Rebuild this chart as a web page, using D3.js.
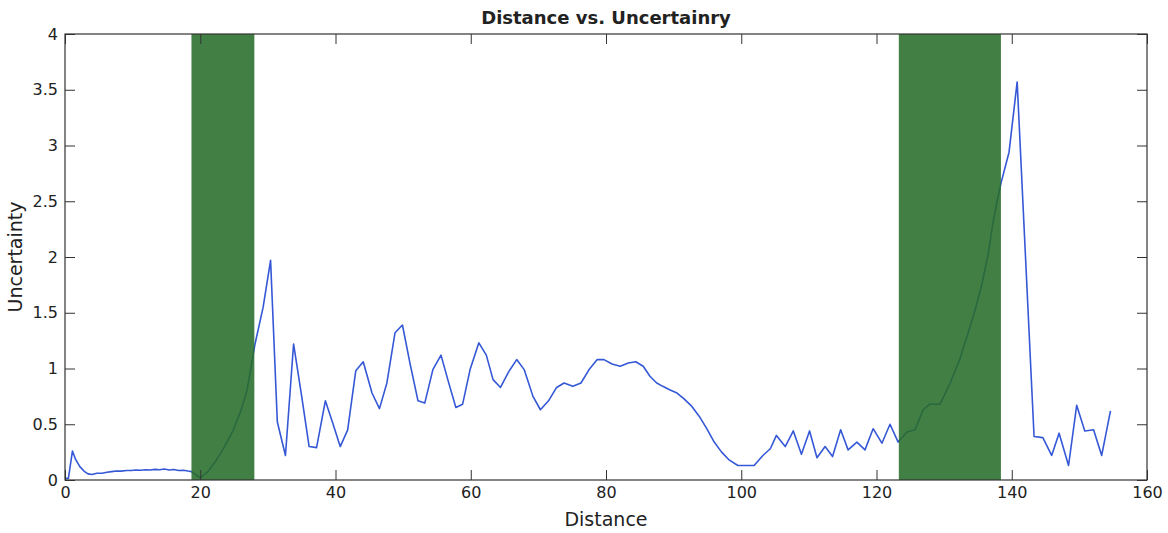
<!DOCTYPE html>
<html>
<head>
<meta charset="utf-8">
<script src="https://cdn.jsdelivr.net/npm/d3@7"></script>
<style>
  body { margin: 0; background: #fff; }
  text { font-family: "DejaVu Sans", sans-serif; fill: #222; }
</style>
</head>
<body>
<svg id="chart" width="1168" height="533"></svg>
<script>
// values
var distance = [0, 0.5, 1.1, 1.6, 2.2, 2.8, 3.4, 4.0, 4.7, 5.5, 6.2, 6.9, 7.6, 8.3, 9.1, 9.8, 10.5, 11.2, 11.9, 12.6,
  13.3, 14.0, 14.7, 15.4, 16.1, 16.8, 17.5, 18.2, 18.7, 20.0, 21.2, 22.4, 23.6, 24.9, 26.0, 26.9, 28.1, 29.3, 30.4,
  31.4, 32.6, 33.8, 35.0, 36.1, 37.2, 38.5, 39.6, 40.7, 41.8, 43.0, 44.1, 45.4, 46.5, 47.6, 48.8, 49.9, 51.0,
  52.2, 53.2, 54.4, 55.6, 56.7, 57.8, 58.8, 59.9, 61.2, 62.3, 63.3, 64.4, 65.6, 66.8, 67.9, 69.2, 70.3, 71.5,
  72.7, 73.8, 75.1, 76.3, 77.5, 78.7, 79.7, 80.9, 82.1, 83.3, 84.4, 85.5, 86.5, 87.5, 88.4, 89.4, 90.5, 91.5,
  92.7, 93.8, 94.9, 96.0, 97.1, 98.2, 99.5, 100.7, 101.9, 103.2, 104.3, 105.2, 106.5, 107.7, 108.9, 110.1,
  111.2, 112.4, 113.5, 114.7, 115.8, 117.1, 118.3, 119.5, 120.8, 122.0, 123.2, 124.5, 125.7, 126.9, 127.9,
  129.4, 130.9, 132.3, 133.6, 134.7, 135.6, 136.5, 137.2, 137.9, 138.4, 139.6, 140.8, 143.3, 144.6, 145.9,
  147.0, 148.4, 149.6, 150.8, 152.1, 153.3, 154.6];
var uncertainty = [0.015, 0.015, 0.26, 0.18, 0.12, 0.08, 0.055, 0.05, 0.06, 0.06, 0.07, 0.075, 0.08, 0.08, 0.085, 0.085,
  0.09, 0.088, 0.092, 0.09, 0.095, 0.092, 0.098, 0.09, 0.094, 0.085, 0.088, 0.08, 0.075, 0.02, 0.08, 0.18, 0.3,
  0.45, 0.62, 0.8, 1.22, 1.55, 1.97,
  0.52, 0.22, 1.22, 0.75, 0.3, 0.29, 0.71, 0.51, 0.3, 0.45, 0.98, 1.06, 0.78, 0.64, 0.87, 1.32, 1.39, 1.05,
  0.71, 0.69, 0.99, 1.12, 0.88, 0.65, 0.68, 0.99, 1.23, 1.12, 0.9, 0.83, 0.97, 1.08, 0.99, 0.75, 0.63, 0.71,
  0.83, 0.87, 0.84, 0.87, 0.99, 1.08, 1.08, 1.04, 1.02, 1.05, 1.06, 1.02, 0.93, 0.87, 0.84, 0.81, 0.78, 0.73,
  0.66, 0.57, 0.46, 0.34, 0.25, 0.18, 0.13, 0.13, 0.13, 0.22, 0.28, 0.4, 0.3, 0.44, 0.23, 0.44,
  0.2, 0.3, 0.21, 0.45, 0.27, 0.34, 0.27, 0.46, 0.33, 0.5, 0.34, 0.43, 0.45, 0.63, 0.68,
  0.68, 0.87, 1.08, 1.33, 1.55, 1.76, 2.02, 2.3, 2.52, 2.66, 2.94, 3.57, 0.39, 0.38, 0.22,
  0.42, 0.13, 0.67, 0.44, 0.45, 0.22, 0.62];
var bandStart = [18.7, 123.3];
var bandEnd = [28.0, 138.4];
var xTicks = [0, 20, 40, 60, 80, 100, 120, 140, 160];
var yTicks = [0, 0.5, 1, 1.5, 2, 2.5, 3, 3.5, 4];

var svg = d3.select("#chart"),
    margin = {top: 34, right: 21, bottom: 53, left: 65},
    width = +svg.attr("width") - margin.left - margin.right,
    height = +svg.attr("height") - margin.top - margin.bottom,
    g = svg.append("g").attr("transform", "translate(" + margin.left + "," + margin.top + ")");

var x = d3.scaleLinear().domain([0, 160]).range([0, width]);
var y = d3.scaleLinear().domain([0, 4]).range([height, 0]);

var points = distance.map(function(d, i) { return [d, uncertainty[i]]; });

var line = d3.line()
    .x(function(d) { return x(d[0]); })
    .y(function(d) { return y(d[1]); });

g.append("path")
    .datum(points)
    .attr("fill", "none")
    .attr("stroke", "#3558d6")
    .attr("stroke-width", 1.6)
    .attr("stroke-linejoin", "round")
    .attr("d", line);

// green shaded regions, drawn over the line
g.selectAll("rect.band")
  .data(bandStart)
  .enter().append("rect")
    .attr("class", "band")
    .attr("x", function(d) { return x(d); })
    .attr("y", 0)
    .attr("width", function(d, i) { return x(bandEnd[i]) - x(d); })
    .attr("height", height)
    .attr("fill", "#266c28")
    .attr("fill-opacity", 0.87);

var fmt = function(d) { return String(d); };

var axisColor = "#333";
function styleAxis(sel) {
  sel.select(".domain").remove();
  sel.selectAll(".tick line").attr("stroke", axisColor);
  sel.selectAll(".tick text").style("font-size", "16px").attr("fill", "#222");
}

g.append("g")
    .attr("transform", "translate(0," + height + ")")
    .call(d3.axisBottom(x).tickValues(xTicks).tickFormat(fmt).tickSizeInner(-10).tickPadding(7))
    .call(styleAxis);
g.append("g")
    .call(d3.axisTop(x).tickValues(xTicks).tickFormat("").tickSizeInner(-10))
    .call(styleAxis);
g.append("g")
    .call(d3.axisLeft(y).tickValues(yTicks).tickFormat(fmt).tickSizeInner(-10).tickPadding(7))
    .call(styleAxis);
g.append("g")
    .attr("transform", "translate(" + width + ",0)")
    .call(d3.axisRight(y).tickValues(yTicks).tickFormat("").tickSizeInner(-10))
    .call(styleAxis);

g.append("rect")
    .attr("width", width)
    .attr("height", height)
    .attr("fill", "none")
    .attr("stroke", axisColor)
    .attr("stroke-width", 1.2);

svg.append("text")
    .attr("x", margin.left + width / 2)
    .attr("y", 24)
    .attr("text-anchor", "middle")
    .style("font-size", "18px")
    .style("font-weight", "bold")
    .text("Distance vs. Uncertainry");

svg.append("text")
    .attr("x", margin.left + width / 2)
    .attr("y", 526)
    .attr("text-anchor", "middle")
    .style("font-size", "19px")
    .text("Distance");

svg.append("text")
    .attr("transform", "translate(22," + (margin.top + height / 2) + ") rotate(-90)")
    .attr("text-anchor", "middle")
    .style("font-size", "19px")
    .text("Uncertainty");
</script>
</body>
</html>
